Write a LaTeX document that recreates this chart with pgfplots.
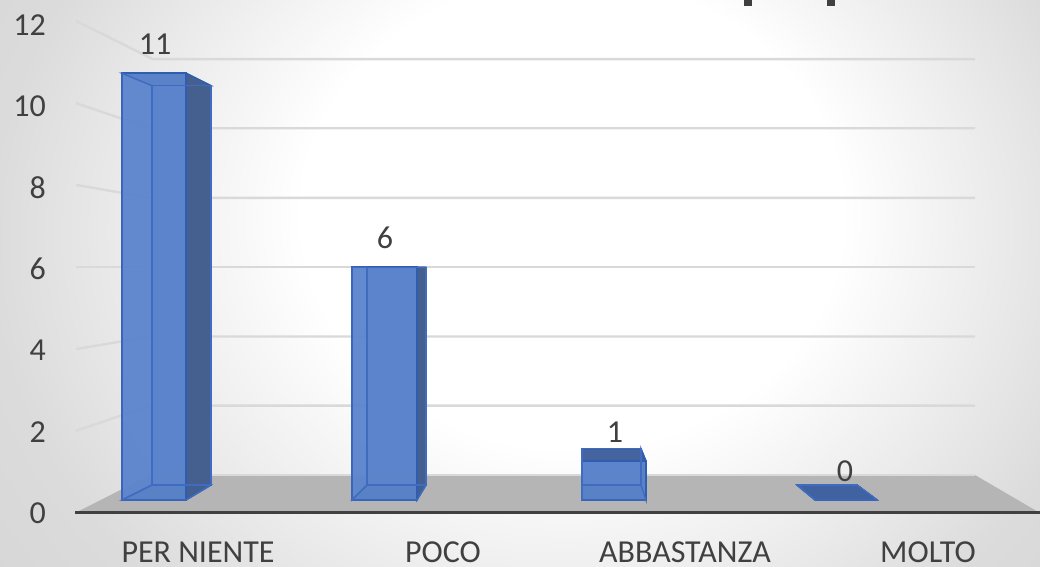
\documentclass[border=0pt]{standalone}
\usepackage{fontspec}
\setmainfont{Carlito}
\usepackage{pgfplots}
\pgfplotsset{compat=1.18}

\definecolor{txt}{HTML}{404040}
\definecolor{gridc}{HTML}{D9D9D9}
\definecolor{floorc}{HTML}{B5B5B5}
\definecolor{edgeo}{HTML}{2F5DAF}
\definecolor{edgei}{HTML}{3F6CC0}
\definecolor{frontc}{HTML}{5B84CC}
\definecolor{sidec}{HTML}{45608F}
\definecolor{topc}{HTML}{44639F}

% background: white in the middle, grey towards the corners
\pgfdeclareradialshading{chartbg}{\pgfpoint{3.4bp}{5.2bp}}{%
  color(0bp)=(white);color(13bp)=(white);color(20bp)=(black!7);
  color(27bp)=(black!14);color(36bp)=(black!17);color(50bp)=(black!19)}

% one face of a bar: rows are x, value, depth (0 front, 1 back)
\newcommand{\face}[5]{%
  \addplot[#1] table[row sep=\\,x=x,
    y expr={0.32+0.368*\thisrow{d}+(0.954-0.0614*\thisrow{d})*\thisrow{v}}]
    {x v d\\ #2\\ #3\\ #4\\ #5\\} --cycle;}
% #1 front left, #2 front right, #3 back left, #4 back right, #5 value
\newcommand{\glassbar}[5]{%
  \face{fill=frontc,fill opacity=.9,draw=edgei,line width=.7pt}{#3 0 1}{#4 0 1}{#4 #5 1}{#3 #5 1}
  \face{fill=topc,draw=edgeo,line width=.7pt}{#1 #5 0}{#2 #5 0}{#4 #5 1}{#3 #5 1}
  \face{fill=sidec,draw=edgeo,line width=.7pt}{#2 0 0}{#4 0 1}{#4 #5 1}{#2 #5 0}
  \face{fill=frontc,fill opacity=.95,draw=edgeo,line width=.9pt}{#1 0 0}{#2 0 0}{#2 #5 0}{#1 #5 0}
  \face{draw=edgei,line width=.7pt,fill=edgeo,fill opacity=.12}{#1 0 0}{#2 0 0}{#4 0 1}{#3 0 1}
  \face{draw=edgei,line width=.7pt}{#3 0 1}{#4 0 1}{#4 #5 1}{#3 #5 1}
  \face{draw=edgei,line width=.7pt}{#1 0 0}{#3 0 1}{#3 #5 1}{#1 #5 0}
}

\begin{document}
\begin{tikzpicture}
\path[use as bounding box] (-37.5pt,-27pt) rectangle (482.5pt,256.5pt);
\begin{scope}
\clip (-37.5pt,-27pt) rectangle (482.5pt,256.5pt);
\shade[shading=chartbg] (-37.5pt,-110pt) rectangle (482.5pt,340pt);
\end{scope}
% what is left of the cropped title
\fill[txt] (334.6pt,253.5pt) rectangle (338.4pt,256.5pt);
\fill[txt] (376.2pt,253.5pt) rectangle (380pt,256.5pt);
\begin{axis}[
    at={(0pt,0pt)}, anchor=south west,
    width=482.5pt, height=244pt, scale only axis,
    xmin=75, xmax=1040, ymin=0, ymax=12,
    clip=false, axis on top,
    axis x line=bottom, axis y line=left,
    axis line style={-},
    x axis line style={draw=txt,line width=1.5pt},
    y axis line style={draw=none},
    major tick length=0pt,
    xtick={198,443,685,928},
    xticklabels={PER NIENTE,POCO,ABBASTANZA,MOLTO},
    ytick={0,2,4,6,8,10,12},
    tick label style={font=\fontsize{16}{18}\selectfont,text=txt},
    x tick label style={anchor=center,inner sep=0pt,yshift=-19.5pt},
    y tick label style={anchor=east,xshift=-11pt},
    /pgf/number format/assume math mode=true,
]
% floor
\addplot[fill=floorc,draw=none] coordinates {(75,0) (150,0.934) (975,0.934) (1040,0)} --cycle;
\addplot[gridc,line width=.6pt] coordinates {(150,0.934) (975,0.934)};
% wall grid
\addplot[gridc,line width=1.2pt] coordinates {(76,2.02) (150,2.64) (975,2.64)};
\addplot[gridc,line width=1.2pt] coordinates {(76,4.03) (150,4.34) (975,4.34)};
\addplot[gridc,line width=1.2pt] coordinates {(76,6.05) (150,6.05) (975,6.05)};
\addplot[gridc,line width=1.2pt] coordinates {(76,8.07) (150,7.75) (975,7.75)};
\addplot[gridc,line width=1.2pt] coordinates {(76,10.08) (150,9.46) (975,9.46)};
\addplot[gridc,line width=1.2pt] coordinates {(76,12.1) (153,11.16) (975,11.16)};
% bars
\glassbar{122}{186}{152}{211}{11}
\glassbar{352}{417}{367}{426}{6}
\glassbar{582}{646}{582}{641}{1}
\glassbar{815}{877}{797}{857}{0}
% data labels
\addplot[draw=none,
    point meta={\thisrow{v}},
    nodes near coords,
    every node near coord/.style={anchor=center,text=txt,font=\fontsize{16}{18}\selectfont},
] table[row sep=\\,x=x,y expr={1.033+0.954*\thisrow{v}}] {
x v\\ 155 11\\ 385 6\\ 615 1\\ 845 0\\
};
\end{axis}
\end{tikzpicture}
\end{document}
